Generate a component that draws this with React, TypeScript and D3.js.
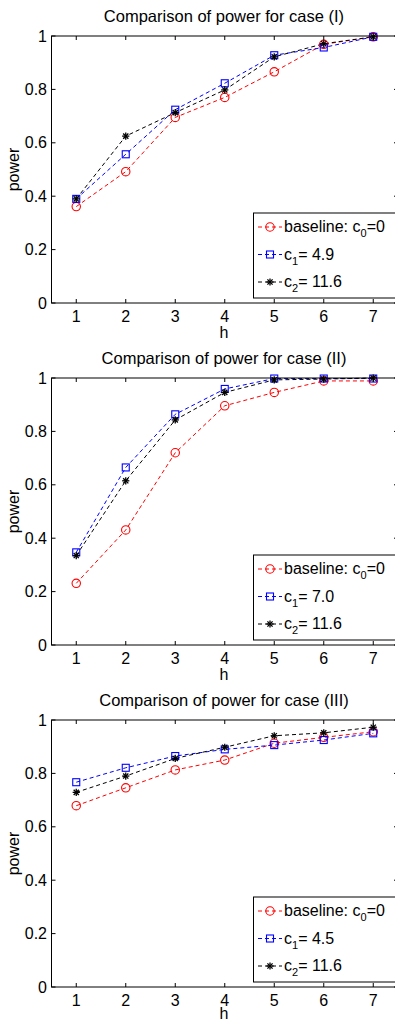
import React from 'react';
import * as d3 from 'd3';

const hValues = [1, 2, 3, 4, 5, 6, 7];
const yTicks = [0, 0.2, 0.4, 0.6, 0.8, 1];
const yTickLabels = ['0', '0.2', '0.4', '0.6', '0.8', '1'];

const titles = ['Comparison of power for case (I)', 'Comparison of power for case (II)', 'Comparison of power for case (III)'];
const c1Labels = ['4.9', '7.0', '4.5'];
const c2Labels = ['11.6', '11.6', '11.6'];

const baselineI = [0.361, 0.492, 0.695, 0.77, 0.866, 0.969, 0.997];
const c1I = [0.39, 0.557, 0.724, 0.823, 0.928, 0.957, 0.997];
const c2I = [0.39, 0.625, 0.713, 0.798, 0.922, 0.971, 0.997];

const baselineII = [0.231, 0.431, 0.72, 0.896, 0.946, 0.989, 0.989];
const c1II = [0.347, 0.665, 0.864, 0.959, 0.998, 0.998, 0.998];
const c2II = [0.335, 0.615, 0.843, 0.946, 0.993, 0.996, 1.0];

const baselineIII = [0.679, 0.746, 0.813, 0.85, 0.913, 0.935, 0.956];
const c1III = [0.767, 0.821, 0.865, 0.89, 0.906, 0.925, 0.95];
const c2III = [0.729, 0.79, 0.856, 0.898, 0.941, 0.952, 0.973];

const panelData = [
  [baselineI, c1I, c2I],
  [baselineII, c1II, c2II],
  [baselineIII, c1III, c2III],
];

const colors = ['#ff0000', '#0000ff', '#000000'];
const font = 'Liberation Sans, Arial, Helvetica, sans-serif';

const Marker = ({ kind, x, y, color }) => {
  if (kind === 0) {
    return <circle cx={x} cy={y} r={4.2} fill="none" stroke={color} strokeWidth={1.1} />;
  }
  if (kind === 1) {
    return <rect x={x - 3.5} y={y - 3.5} width={7} height={7} fill="none" stroke={color} strokeWidth={1.1} />;
  }
  const s = 3.6;
  const d = s * 0.72;
  return (
    <g stroke={color} strokeWidth={1.3}>
      <line x1={x - s} y1={y} x2={x + s} y2={y} />
      <line x1={x} y1={y - s} x2={x} y2={y + s} />
      <line x1={x - d} y1={y - d} x2={x + d} y2={y + d} />
      <line x1={x - d} y1={y + d} x2={x + d} y2={y - d} />
    </g>
  );
};

const Panel = ({ top, title, series, c1, c2 }) => {
  const height = 267;
  const x = d3.scaleLinear().domain([0.5, 7.5]).range([51.5, 398]);
  const y = d3.scaleLinear().domain([0, 1]).range([top + height, top]);
  const line = d3.line().x((d, i) => x(hValues[i])).y((d) => y(d));
  const bottom = top + height;
  const legTop = top + 177;

  const labels = [
    <>baseline: c<tspan fontSize={11} dy={5}>0</tspan><tspan dy={-5}>=0</tspan></>,
    <>c<tspan fontSize={11} dy={5}>1</tspan><tspan dy={-5}>= {c1}</tspan></>,
    <>c<tspan fontSize={11} dy={5}>2</tspan><tspan dy={-5}>= {c2}</tspan></>,
  ];

  return (
    <g fontFamily={font}>
      <text x={224} y={top - 14} textAnchor="middle" fontSize={16.5}>{title}</text>
      {series.map((vals, k) => (
        <path key={k} d={line(vals)} fill="none" stroke={colors[k]} strokeWidth={1} strokeDasharray="4,3" />
      ))}
      {series.map((vals, k) =>
        vals.map((v, i) => <Marker key={`${k}-${i}`} kind={k} x={x(hValues[i])} y={y(v)} color={colors[k]} />)
      )}
      <rect x={51.5} y={top} width={346.5} height={height} fill="none" stroke="#000" strokeWidth={1} />
      {hValues.map((h) => (
        <g key={h}>
          <line x1={x(h)} x2={x(h)} y1={bottom} y2={bottom - 4} stroke="#000" />
          <line x1={x(h)} x2={x(h)} y1={top} y2={top + 4} stroke="#000" />
          <text x={x(h)} y={bottom + 19} textAnchor="middle" fontSize={16}>{h}</text>
        </g>
      ))}
      {yTicks.map((t, i) => (
        <g key={t}>
          <line x1={51.5} x2={55.5} y1={y(t)} y2={y(t)} stroke="#000" />
          <line x1={398} x2={394} y1={y(t)} y2={y(t)} stroke="#000" />
          <text x={47} y={y(t) + 5.5} textAnchor="end" fontSize={16}>{yTickLabels[i]}</text>
        </g>
      ))}
      <text x={224} y={Math.min(bottom + 35, 1019)} textAnchor="middle" fontSize={16}>h</text>
      <text transform={`translate(19, ${(top + bottom) / 2}) rotate(-90)`} textAnchor="middle" fontSize={16}>power</text>

      <rect x={253.5} y={legTop} width={142} height={85} fill="#fff" stroke="#000" strokeWidth={1} />
      {labels.map((lab, k) => {
        const ry = legTop + 14 + k * 27.5;
        return (
          <g key={k}>
            <line x1={258} x2={282} y1={ry} y2={ry} stroke={colors[k]} strokeDasharray="4,3" />
            <Marker kind={k} x={270} y={ry} color={colors[k]} />
            <text x={284} y={ry + 5} fontSize={16}>{lab}</text>
          </g>
        );
      })}
    </g>
  );
};

const tops = [36, 378, 720];

export default function App() {
  return (
    <svg width={395} height={1020} style={{ position: 'absolute', left: 0, top: 0, background: '#fff' }}>
      <rect width={395} height={1020} fill="#fff" />
      {tops.map((t, i) => (
        <Panel key={i} top={t} title={titles[i]} series={panelData[i]} c1={c1Labels[i]} c2={c2Labels[i]} />
      ))}
    </svg>
  );
}
